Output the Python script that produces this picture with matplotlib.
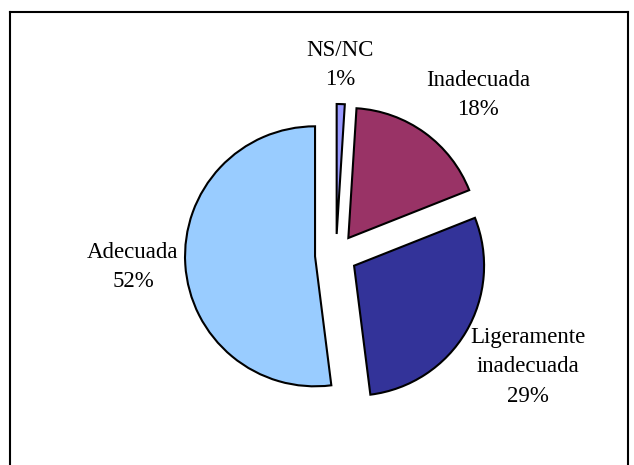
import matplotlib
matplotlib.use("Agg")
import matplotlib.pyplot as plt
from matplotlib.lines import Line2D

labels = ["NS/NC", "Inadecuada", "Ligeramente\ninadecuada", "Adecuada"]
values = [1, 18, 29, 52]
colors = ["#9999FF", "#993366", "#333399", "#99CCFF"]

W, H = 634, 465
fig = plt.figure(figsize=(W / 100, H / 100), dpi=100)
ax = fig.add_axes([0, 0, 1, 1])

cx, cy, r = 336, H - 255, 130
ax.pie(values, colors=colors, startangle=90, counterclock=False,
       center=(cx, cy), radius=r, explode=[21] * 4,
       wedgeprops=dict(edgecolor="black", linewidth=1.5))

ax.set_xlim(0, W)
ax.set_ylim(0, H)
ax.set_aspect("auto")
ax.axis("off")

# label positions (pixel coords, y from top)
label_pos = [(340, 65), (478, 95), (528, 367), (133, 267)]
for lab, v, (lx, ly) in zip(labels, values, label_pos):
    ax.text(lx, H - ly, f"{lab}\n{v}%", ha="center", va="center",
            fontsize=16.5, family="Liberation Serif", linespacing=1.55)

# chart frame
fig.add_artist(Line2D([9.5 / W, 9.5 / W], [0, 1 - 12.5 / H], color="black", lw=1.5, transform=fig.transFigure))
fig.add_artist(Line2D([9.5 / W, 627.5 / W], [1 - 12.5 / H, 1 - 12.5 / H], color="black", lw=1.5, transform=fig.transFigure))
fig.add_artist(Line2D([627.5 / W, 627.5 / W], [0, 1 - 12.5 / H], color="black", lw=1.5, transform=fig.transFigure))

fig.savefig("out.png", dpi=100)
